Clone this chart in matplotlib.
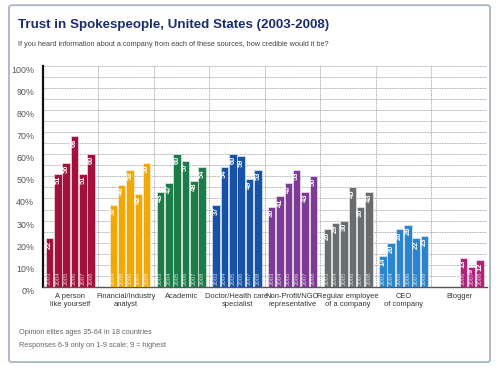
import matplotlib
matplotlib.use("Agg")
import matplotlib.pyplot as plt
import numpy as np
from matplotlib.patches import FancyBboxPatch

plt.rcParams["font.family"] = ["Liberation Sans", "DejaVu Sans"]

YEARS = ["2003", "2004", "2005", "2006", "2007", "2008"]

GROUPS = [
	"A person\nlike yourself",
	"Financial/Industry\nanalyst",
	"Academic",
	"Doctor/Health care\nspecialist",
	"Non-Profit/NGO\nrepresentative",
	"Regular employee\nof a company",
	"CEO\nof company",
	"Blogger",
]

# None = no survey that year
person = [22, 51, 56, 68, 51, 60]
analyst = [None, 37, 46, 53, 42, 56]
academic = [43, 47, 60, 57, 48, 54]
doctor = [37, 54, 60, 59, 49, 53]
ngo = [36, 41, 47, 53, 43, 50]
employee = [26, 29, 30, 45, 36, 43]
ceo = [14, 20, 26, 28, 22, 23]
blogger = [None, None, None, 13, 9, 12]

SERIES = [person, analyst, academic, doctor, ngo, employee, ceo, blogger]
COLORS = ["#A3103E", "#F0A902", "#1B7C47", "#1652A8", "#7E3B95", "#696D70", "#2A84CF", "#B1207D"]

Y_TICKS = list(range(0, 101, 10))


def main() -> None:
	fig = plt.figure(figsize=(5.0, 3.71), dpi=100)
	fig.patch.set_facecolor("white")

	frame = FancyBboxPatch(
		(0.018, 0.024), 0.962, 0.962,
		boxstyle="round,pad=0,rounding_size=0.006",
		transform=fig.transFigure, facecolor="none",
		edgecolor="#A7B4C2", linewidth=1.3, zorder=0,
	)
	fig.patches.append(frame)

	ax = fig.add_axes([0.085, 0.2265, 0.889, 0.5965])

	slot = 0.15
	width = 0.135
	for gi, vals in enumerate(SERIES):
		for yi, v in enumerate(vals):
			if v is None:
				continue
			x = gi + 0.05 + slot * yi + slot / 2
			ax.bar(x, v, width=width, color=COLORS[gi], edgecolor="#f4f4f4",
				linewidth=0.4, zorder=3)
			ax.text(x, v - 0.8, str(v), rotation=90, ha="center", va="top",
				color="white", fontsize=5.4, fontweight="bold", zorder=4)
			ax.text(x, 0.8, YEARS[yi], rotation=90, ha="center", va="bottom",
				color="white", alpha=0.75, fontsize=4.3, zorder=4)

	ax.set_xlim(0, len(GROUPS))
	ax.set_ylim(0, 100)

	for y in range(5, 101, 5):
		ax.axhline(y, color="#8f8f8f", linewidth=0.6, linestyle=(0, (1, 1)), zorder=1)
	for x in range(1, len(GROUPS) + 1):
		ax.axvline(x, color="#8f8f8f", linewidth=0.6, linestyle=(0, (1, 1)), zorder=1)

	ax.set_yticks(Y_TICKS)
	ax.set_yticklabels([f"{t}%" for t in Y_TICKS], va="top")
	ax.tick_params(axis="y", length=0, pad=6, labelsize=6.4, labelcolor="#555555")
	ax.set_xticks(np.arange(len(GROUPS)) + 0.5)
	ax.set_xticklabels(GROUPS, linespacing=1.2)
	ax.tick_params(axis="x", length=0, pad=4, labelsize=5.4, labelcolor="#333333")

	for side in ["top", "right"]:
		ax.spines[side].set_visible(False)
	ax.spines["left"].set_color("#111111")
	ax.spines["left"].set_linewidth(1.6)
	ax.spines["bottom"].set_color("#555555")
	ax.spines["bottom"].set_linewidth(1.0)

	fig.text(0.036, 0.932, "Trust in Spokespeople, United States (2003-2008)",
		fontsize=9.6, fontweight="bold", color="#1B2D6B", va="center")
	fig.text(0.036, 0.881,
		"If you heard information about a company from each of these sources, how credible would it be?",
		fontsize=5.3, color="#444444", va="center")
	fig.text(0.038, 0.105, "Opinion elites ages 35-64 in 18 countries",
		fontsize=5.3, color="#666666", va="center")
	fig.text(0.038, 0.070, "Responses 6-9 only on 1-9 scale; 9 = highest",
		fontsize=5.3, color="#666666", va="center")

	fig.savefig("out.png", dpi=100)
	plt.close("all")


if __name__ == "__main__":
	main()
